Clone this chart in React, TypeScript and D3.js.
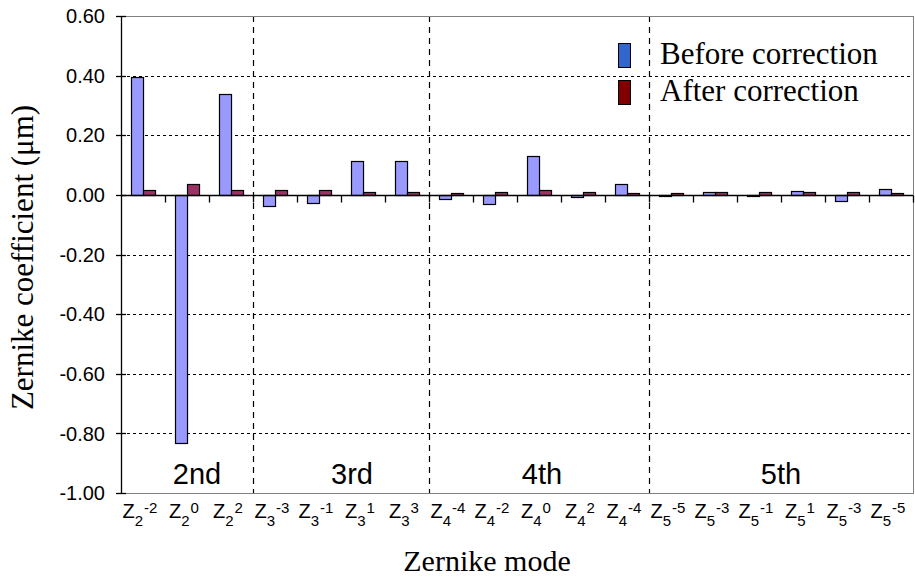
import React, { useRef, useEffect } from 'react';
import * as d3 from 'd3';

// Zernike modes: radial order (subscript) and azimuthal frequency (superscript) as printed
const modeOrder = [2, 2, 2, 3, 3, 3, 3, 4, 4, 4, 4, 4, 5, 5, 5, 5, 5, 5];
const modeFreq = ['-2', '0', '2', '-3', '-1', '1', '3', '-4', '-2', '0', '2', '-4', '-5', '-3', '-1', '1', '-3', '-5'];

const beforeValues = [0.394, -0.832, 0.337, -0.036, -0.028, 0.113, 0.113, -0.013, -0.029, 0.132, -0.007, 0.037, 0.001, 0.011, 0.001, 0.013, -0.019, 0.019];
const afterValues = [0.017, 0.035, 0.017, 0.016, 0.017, 0.009, 0.009, 0.007, 0.011, 0.017, 0.008, 0.007, 0.007, 0.011, 0.008, 0.008, 0.008, 0.007];

const groupNames = ['2nd', '3rd', '4th', '5th'];
const groupSizes = [3, 4, 5, 6];

const yTicks = [0.6, 0.4, 0.2, 0, -0.2, -0.4, -0.6, -0.8, -1.0];
const seriesNames = ['Before correction', 'After correction'];

const SANS = '"Liberation Sans", Arial, sans-serif';
const SERIF = '"Liberation Serif", "Times New Roman", serif';

const ZernikeChart = () => {
  const svgRef = useRef(null);

  useEffect(() => {
    const svg = d3.select(svgRef.current);
    svg.selectAll('*').remove();

    const left = 121;
    const right = 913;
    const top = 16;
    const bottom = 493;

    const y = d3.scaleLinear().domain([-1, 0.6]).range([bottom, top]);
    const idx = modeOrder.map((_, i) => i);
    const x = d3.scaleBand().domain(idx.map(String)).range([left, right]).padding(0);
    const x1 = d3.scaleBand().domain(['before', 'after']).range([0, x.bandwidth()]).paddingInner(0).paddingOuter(0.83);

    // horizontal dashed gridlines
    svg
      .append('g')
      .selectAll('line')
      .data(yTicks.filter((t) => t !== 0 && t !== -1 && t !== 0.6))
      .join('line')
      .attr('x1', left)
      .attr('x2', right)
      .attr('y1', (d) => Math.round(y(d)) + 0.5)
      .attr('y2', (d) => Math.round(y(d)) + 0.5)
      .style('stroke', '#000')
      .style('stroke-width', 1)
      .style('stroke-dasharray', '3,3');

    // vertical dashed separators between orders
    const bounds = d3.cumsum(groupSizes);
    const sepIdx = Array.from(bounds).slice(0, -1);
    svg
      .append('g')
      .selectAll('line')
      .data(sepIdx)
      .join('line')
      .attr('x1', (d) => Math.round(x(String(d))) + 0.5)
      .attr('x2', (d) => Math.round(x(String(d))) + 0.5)
      .attr('y1', top)
      .attr('y2', bottom)
      .style('stroke', '#000')
      .style('stroke-width', 1.2)
      .style('stroke-dasharray', '6,5');

    // plot area border (gray)
    svg
      .append('rect')
      .attr('x', left + 0.5)
      .attr('y', top + 0.5)
      .attr('width', right - left)
      .attr('height', bottom - top)
      .style('fill', 'none')
      .style('stroke', '#808080')
      .style('stroke-width', 1);

    // bars
    const barData = idx.flatMap((i) => [
      { i, key: 'before', v: beforeValues[i] },
      { i, key: 'after', v: afterValues[i] },
    ]);
    svg
      .append('g')
      .selectAll('rect')
      .data(barData)
      .join('rect')
      .attr('x', (d) => Math.round(x(String(d.i)) + x1(d.key)) + 0.5)
      .attr('width', x1.bandwidth())
      .attr('y', (d) => Math.round(y(Math.max(0, d.v))) + 0.5)
      .attr('height', (d) => Math.max(1, Math.abs(Math.round(y(d.v)) - Math.round(y(0)))))
      .style('fill', (d) => (d.key === 'before' ? '#9999ff' : '#993366'))
      .style('stroke', '#000')
      .style('stroke-width', 1.2);

    // zero axis with tick marks at category boundaries
    const y0 = Math.round(y(0)) + 0.5;
    svg
      .append('line')
      .attr('x1', left)
      .attr('x2', right)
      .attr('y1', y0)
      .attr('y2', y0)
      .style('stroke', '#000')
      .style('stroke-width', 1.3);
    svg
      .append('g')
      .selectAll('line')
      .data(idx.slice(1).concat([idx.length]))
      .join('line')
      .attr('x1', (d) => Math.round(d < idx.length ? x(String(d)) : right) + 0.5)
      .attr('x2', (d) => Math.round(d < idx.length ? x(String(d)) : right) + 0.5)
      .attr('y1', y0)
      .attr('y2', y0 + 7)
      .style('stroke', '#000')
      .style('stroke-width', 1.3);

    // y axis
    svg
      .append('line')
      .attr('x1', left + 0.5)
      .attr('x2', left + 0.5)
      .attr('y1', top)
      .attr('y2', bottom + 1)
      .style('stroke', '#000')
      .style('stroke-width', 1.3);
    const yAxis = svg.append('g');
    yAxis
      .selectAll('line')
      .data(yTicks)
      .join('line')
      .attr('x1', left - 5)
      .attr('x2', left + 5)
      .attr('y1', (d) => Math.round(y(d)) + 0.5)
      .attr('y2', (d) => Math.round(y(d)) + 0.5)
      .style('stroke', '#000')
      .style('stroke-width', 1.3);
    yAxis
      .selectAll('text')
      .data(yTicks)
      .join('text')
      .text((d) => d.toFixed(2))
      .attr('x', 105)
      .attr('y', (d) => y(d))
      .attr('dy', '0.36em')
      .attr('text-anchor', 'end')
      .style('font-family', SANS)
      .style('font-size', '20px')
      .style('fill', '#000');

    // x tick labels: Z with subscript order and superscript frequency
    const labels = svg
      .append('g')
      .selectAll('text')
      .data(idx)
      .join('text')
      .attr('x', (d) => x(String(d)) + x.bandwidth() / 2 - 3)
      .attr('y', 518)
      .attr('text-anchor', 'middle')
      .style('font-family', SANS)
      .style('font-size', '20px')
      .style('fill', '#000');
    labels.append('tspan').text('Z');
    labels
      .append('tspan')
      .text((d) => modeOrder[d])
      .attr('dy', 8)
      .style('font-size', '15px');
    labels
      .append('tspan')
      .text((d) => modeFreq[d])
      .attr('dx', 1)
      .attr('dy', -13)
      .style('font-size', '15px');

    // order group labels (text boxes sit slightly right of the section centre in the original)
    const labelShift = [10, 11, 3, 0];
    const starts = [0, ...Array.from(bounds).slice(0, -1)];
    svg
      .append('g')
      .selectAll('text')
      .data(groupNames)
      .join('text')
      .text((d) => d)
      .attr('x', (d, i) => {
        const a = x(String(starts[i]));
        const endIdx = starts[i] + groupSizes[i];
        const b = endIdx < idx.length ? x(String(endIdx)) : right;
        return (a + b) / 2 + labelShift[i];
      })
      .attr('y', 484)
      .attr('text-anchor', 'middle')
      .style('font-family', SANS)
      .style('font-size', '29px')
      .style('fill', '#000');

    // legend
    const legendColors = ['#3366cc', '#800000'];
    const legend = svg
      .append('g')
      .selectAll('g')
      .data(seriesNames)
      .join('g')
      .attr('transform', (d, i) => `translate(0,${i * 37})`);
    legend
      .append('rect')
      .attr('x', 618.5)
      .attr('y', 43.5)
      .attr('width', 12)
      .attr('height', 24)
      .style('fill', (d, i) => legendColors[i])
      .style('stroke', '#000')
      .style('stroke-width', 1);
    legend
      .append('text')
      .text((d) => d)
      .attr('x', 660)
      .attr('y', 64)
      .style('font-family', SERIF)
      .style('font-size', '31px')
      .style('fill', '#000');

    // axis titles
    svg
      .append('text')
      .text('Zernike coefficient (\u03bcm)')
      .attr('transform', `translate(33,${(top + bottom) / 2 + 3}) rotate(-90)`)
      .attr('text-anchor', 'middle')
      .style('font-family', SERIF)
      .style('font-size', '31px')
      .style('fill', '#000');
    svg
      .append('text')
      .text('Zernike mode')
      .attr('x', 487)
      .attr('y', 571)
      .attr('text-anchor', 'middle')
      .style('font-family', SERIF)
      .style('font-size', '30px')
      .style('fill', '#000');
  }, []);

  return (
    <svg
      ref={svgRef}
      width="915"
      height="580"
      style={{ position: 'absolute', left: 0, top: 0, background: '#fff' }}
    ></svg>
  );
};

export default function App() {
  return <ZernikeChart />;
}
